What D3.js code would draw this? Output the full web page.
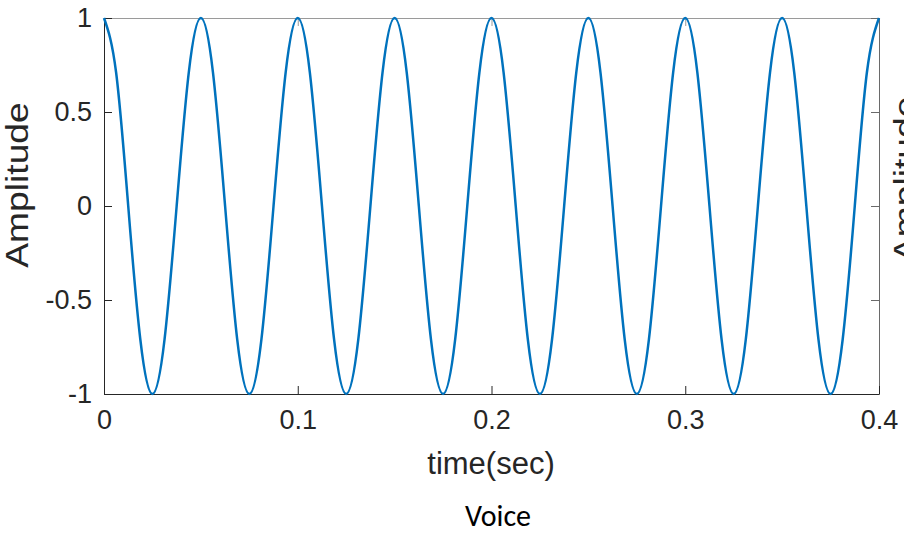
<!DOCTYPE html>
<html>
<head>
<meta charset="utf-8">
<script src="https://cdn.jsdelivr.net/npm/d3@7"></script>
<style>
  html, body { margin: 0; padding: 0; background: #fff; }
  svg { display: block; }
  .tick text { font-family: "Liberation Sans", Arial, Helvetica, sans-serif; fill: #262626; }
</style>
</head>
<body>
<svg id="chart" width="904" height="536"></svg>
<script>
// samples, every 1/8 of a period
const timeSec = [
  0, 0.00625, 0.0125, 0.01875, 0.025, 0.03125, 0.0375, 0.04375,
  0.05, 0.05625, 0.0625, 0.06875, 0.075, 0.08125, 0.0875, 0.09375,
  0.1, 0.10625, 0.1125, 0.11875, 0.125, 0.13125, 0.1375, 0.14375,
  0.15, 0.15625, 0.1625, 0.16875, 0.175, 0.18125, 0.1875, 0.19375,
  0.2, 0.20625, 0.2125, 0.21875, 0.225, 0.23125, 0.2375, 0.24375,
  0.25, 0.25625, 0.2625, 0.26875, 0.275, 0.28125, 0.2875, 0.29375,
  0.3, 0.30625, 0.3125, 0.31875, 0.325, 0.33125, 0.3375, 0.34375,
  0.35, 0.35625, 0.3625, 0.36875, 0.375, 0.38125, 0.3875, 0.39375,
  0.4
];
const amplitude = [
  1, 0.71, 0, -0.71, -1, -0.71, 0, 0.71,
  1, 0.71, 0, -0.71, -1, -0.71, 0, 0.71,
  1, 0.71, 0, -0.71, -1, -0.71, 0, 0.71,
  1, 0.71, 0, -0.71, -1, -0.71, 0, 0.71,
  1, 0.71, 0, -0.71, -1, -0.71, 0, 0.71,
  1, 0.71, 0, -0.71, -1, -0.71, 0, 0.71,
  1, 0.71, 0, -0.71, -1, -0.71, 0, 0.71,
  1, 0.71, 0, -0.71, -1, -0.71, 0, 0.71,
  1
];
const xTicks = [0, 0.1, 0.2, 0.3, 0.4];
const yTicks = [-1, -0.5, 0, 0.5, 1];

const margin = { left: 104, right: 25, top: 18, bottom: 142 };
const width = 904, height = 536;
const svg = d3.select("#chart");

const x = d3.scaleLinear().domain([0, 0.4]).range([margin.left, width - margin.right]);
const y = d3.scaleLinear().domain([-1, 1]).range([height - margin.bottom, margin.top]);

const fmt = d => String(d);

// box: top and right first (lighter), then left and bottom
svg.append("g")
    .attr("transform", `translate(0,${margin.top})`)
    .call(d3.axisTop(x).tickValues(xTicks).tickSizeInner(-8).tickSizeOuter(0).tickFormat(""))
    .call(g => g.selectAll("path, line").attr("stroke", "#9a9a9a"));

svg.append("g")
    .attr("transform", `translate(${width - margin.right},0)`)
    .call(d3.axisRight(y).tickValues(yTicks).tickSizeInner(-8).tickSizeOuter(0).tickFormat(""))
    .call(g => g.selectAll("path, line").attr("stroke", "#6a6a6a"));

svg.append("g")
    .attr("transform", `translate(0,${height - margin.bottom})`)
    .call(d3.axisBottom(x).tickValues(xTicks).tickSizeInner(-8).tickSizeOuter(0).tickPadding(16).tickFormat(fmt))
    .call(g => g.selectAll("path, line").attr("stroke", "#262626"))
    .call(g => g.selectAll("text").attr("font-size", 27));

svg.append("g")
    .attr("transform", `translate(${margin.left},0)`)
    .call(d3.axisLeft(y).tickValues(yTicks).tickSizeInner(-8).tickSizeOuter(0).tickPadding(12).tickFormat(fmt))
    .call(g => g.selectAll("path, line").attr("stroke", "#262626"))
    .call(g => g.selectAll("text").attr("font-size", 27));

// signal
const line = d3.line()
    .x((d, i) => x(timeSec[i]))
    .y(d => y(d))
    .curve(d3.curveNatural);

svg.append("path")
    .datum(amplitude)
    .attr("fill", "none")
    .attr("stroke", "#0072BD")
    .attr("stroke-width", 2.5)
    .attr("d", line);

// labels
svg.append("text")
    .attr("x", 491).attr("y", 474)
    .attr("text-anchor", "middle")
    .attr("font-family", "'Liberation Sans', Arial, sans-serif")
    .attr("font-size", 31)
    .attr("fill", "#262626")
    .text("time(sec)");

svg.append("text")
    .attr("transform", "translate(28,185) rotate(-90) scale(1.2,1)")
    .attr("text-anchor", "middle")
    .attr("font-family", "'Liberation Sans', Arial, sans-serif")
    .attr("font-size", 31)
    .attr("fill", "#262626")
    .text("Amplitude");

// clipped label of the neighbouring plot
svg.append("text")
    .attr("transform", "translate(916,262) rotate(-90) scale(1.2,1)")
    .attr("text-anchor", "start")
    .attr("font-family", "'Liberation Sans', Arial, sans-serif")
    .attr("font-size", 31)
    .attr("fill", "#262626")
    .text("Amplitude");

svg.append("text")
    .attr("x", 498).attr("y", 526)
    .attr("text-anchor", "middle")
    .attr("font-family", "Carlito, Calibri, Lato, sans-serif")
    .attr("font-size", 30)
    .attr("fill", "#000")
    .text("Voice");
</script>
</body>
</html>
